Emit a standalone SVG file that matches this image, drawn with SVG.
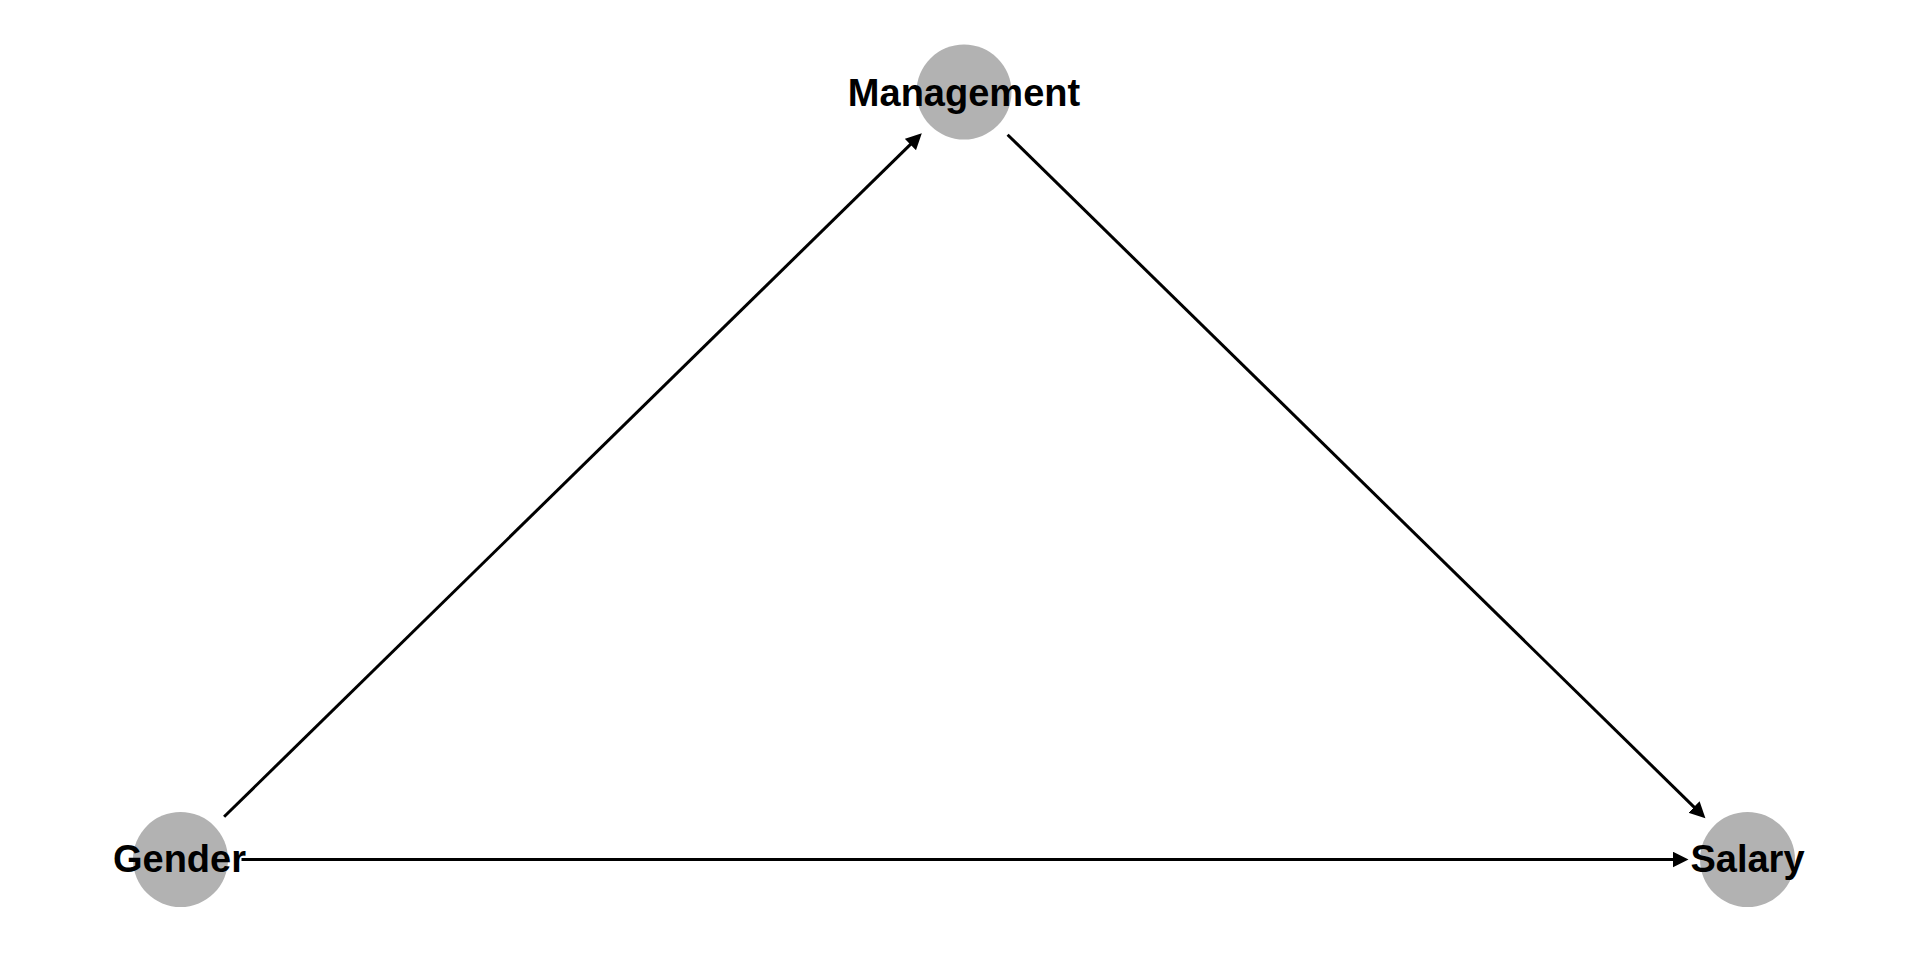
<svg xmlns="http://www.w3.org/2000/svg" width="1920" height="960" viewBox="0 0 1920 960">
<style>
.node circle{fill:#b2b2b2;}
.node text{font-family:"Liberation Sans",Arial,sans-serif;font-weight:bold;font-size:38px;fill:#000;text-anchor:middle;}
.edge{stroke:#000;stroke-width:3;fill:none;}
</style>
<defs>
<marker id="arrow" markerUnits="userSpaceOnUse" markerWidth="18" markerHeight="18" refX="8" refY="8" orient="auto">
<path d="M0,0 L16,8 L0,16 z" fill="#000"/>
</marker>
</defs>
<rect width="1920" height="960" fill="#fff"/>
<g id="node-management" class="node"><circle cx="964" cy="92" r="47.5"/></g>
<g id="node-gender" class="node"><circle cx="180.5" cy="859.5" r="47.5"/></g>
<g id="node-salary" class="node"><circle cx="1747.5" cy="859.5" r="47.5"/></g>
<g id="connectors">
<line class="edge" x1="224.1" y1="816.8" x2="916.1" y2="138.9" marker-end="url(#arrow)"/>
<line class="edge" x1="1007.6" y1="134.7" x2="1699.7" y2="812.6" marker-end="url(#arrow)"/>
<line class="edge" x1="241.5" y1="859.5" x2="1680.5" y2="859.5" marker-end="url(#arrow)"/>
</g>
<g id="labels" class="node">
<text x="964" y="106">Management</text>
<text x="179.5" y="872">Gender</text>
<text x="1747.5" y="872">Salary</text>
</g>
</svg>
